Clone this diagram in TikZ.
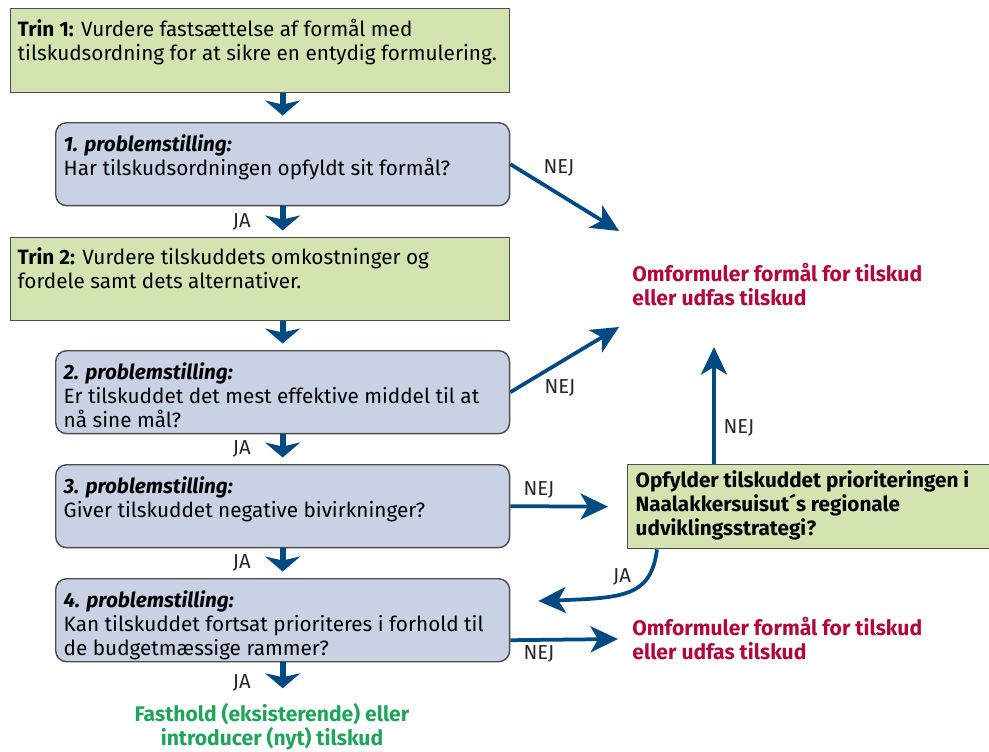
\documentclass[tikz,border=0pt]{standalone}
\usepackage{fontspec}
\setmainfont{Fira Sans}
\usetikzlibrary{arrows.meta,positioning}

\definecolor{trinfill}{HTML}{D3E4B1}
\definecolor{spmfill}{HTML}{C9D1E4}
\definecolor{pilblue}{HTML}{004A84}
\definecolor{udfasred}{HTML}{B1063E}
\definecolor{fastgreen}{HTML}{1FA55B}

\newcommand{\boxtxt}[3]{\parbox[t][#1][t]{#2}{\raggedright #3}}

\begin{document}
\begin{tikzpicture}[
  x=0.02cm, y=-0.02cm,
  font=\fontsize{11.8}{13.66}\selectfont,
  trin/.style={draw=black!70, line width=0.8pt, fill=trinfill, anchor=north west, inner xsep=0.14cm, inner ysep=0.2cm},
  spm/.style={trin, fill=spmfill, rounded corners=0.22cm, inner xsep=0.16cm, inner ysep=0.24cm},
  udfas/.style={font=\fontsize{12}{13.66}\selectfont\bfseries, text=udfasred, align=left, anchor=west, inner sep=0pt},
  lbl/.style={font=\fontsize{11.5}{12}\selectfont, text=black!85, inner sep=0pt},
  ned/.style={draw=pilblue, line width=0.12cm, shorten >=0.13cm, -{Stealth[length=0.3cm, width=0.7cm, inset=0.08cm]}},
  side/.style={draw=pilblue, line width=0.075cm, -{Stealth[length=0.55cm, width=0.52cm, inset=0.15cm]}}
]
\useasboundingbox (0,0) rectangle (989,751);
\clip (0,0) rectangle (989,751);

\node[trin] (trin1) at (10,8) {\boxtxt{1.28cm}{9.7cm}{\textbf{Trin 1:} Vurdere fastsættelse af formål med\\ tilskudsordning for at sikre en entydig formulering.}};
\node[spm] (q1) at (55,122) {\boxtxt{1.18cm}{8.76cm}{\textbf{\textit{1. problemstilling:}}\\ Har tilskudsordningen opfyldt sit formål?}};
\node[trin] (trin2) at (10,237) {\boxtxt{1.26cm}{9.7cm}{\textbf{Trin 2:} Vurdere tilskuddets omkostninger og\\ fordele samt dets alternativer.}};
\node[spm] (q2) at (55,350) {\boxtxt{1.18cm}{8.76cm}{\textbf{\textit{2. problemstilling:}}\\ Er tilskuddet det mest effektive middel til at\\ nå sine mål?}};
\node[spm] (q3) at (55,464) {\boxtxt{1.18cm}{8.76cm}{\textbf{\textit{3. problemstilling:}}\\ Giver tilskuddet negative bivirkninger?}};
\node[spm] (q4) at (55,578) {\boxtxt{1.18cm}{8.76cm}{\textbf{\textit{4. problemstilling:}}\\ Kan tilskuddet fortsat prioriteres i forhold til\\ de budgetmæssige rammer?}};

\node[trin, inner xsep=0.16cm, inner ysep=0.12cm] (prio) at (627,464) {\boxtxt{1.44cm}{7.28cm}{\bfseries Opfylder tilskuddet prioriteringen i\\ Naalakkersuisut´s regionale\\ udviklingsstrategi?}};

\node[udfas] (out1) at (632,285) {Omformuler formål for tilskud\\eller udfas tilskud};
\node[udfas] (out2) at (632,639) {Omformuler formål for tilskud\\eller udfas tilskud};
\node[font=\fontsize{12}{13.66}\selectfont\bfseries, text=fastgreen, align=center, inner sep=0pt] (keep) at (272,727) {Fasthold (eksisterende) eller\\introducer (nyt) tilskud};

\draw[ned] (trin1.south -| q1.north) -- (q1.north);
\draw[ned] (q1.south) -- (trin2.north -| q1.south) node[lbl, midway, left=0.58cm] {JA};
\draw[ned] (trin2.south -| q2.north) -- (q2.north);
\draw[ned] (q2.south) -- (q3.north) node[lbl, midway, left=0.58cm] {JA};
\draw[ned] (q3.south) -- (q4.north) node[lbl, midway, left=0.58cm] {JA};
\draw[ned, shorten >=0.3cm] (q4.south) -- (keep.north -| q4.south) node[lbl, midway, left=0.58cm] {JA};

\coordinate (t1) at (619,231);
\coordinate (t2) at (619,327);
\coordinate (t3) at (714,347);
\coordinate (t4) at (618,639);
\draw[side] (q1.east) -- (t1);
\draw[side] (q2.east) -- (t2);
\draw[side, shorten >=0.38cm] (q3.east) -- (prio.west);
\draw[side] ([shift={(0,20)}]q4.east) -- (t4);
\draw[side] (prio.north -| t3) -- (t3);
\draw[side] ([xshift=0.6cm]prio.south west) .. controls (651,596) and (625,598) .. ([shift={(28,23)}]q4.north east);

\node[lbl] (nej1) at (559,168) {NEJ};
\node[lbl] (nej2) at (560,388) {NEJ};
\node[lbl] (nej3) at (539,490) {NEJ};
\node[lbl] (nej4) at (539,654) {NEJ};
\node[lbl] (nej5) at (739,428) {NEJ};
\node[lbl] (ja5) at (622,577) {JA};

\end{tikzpicture}
\end{document}
